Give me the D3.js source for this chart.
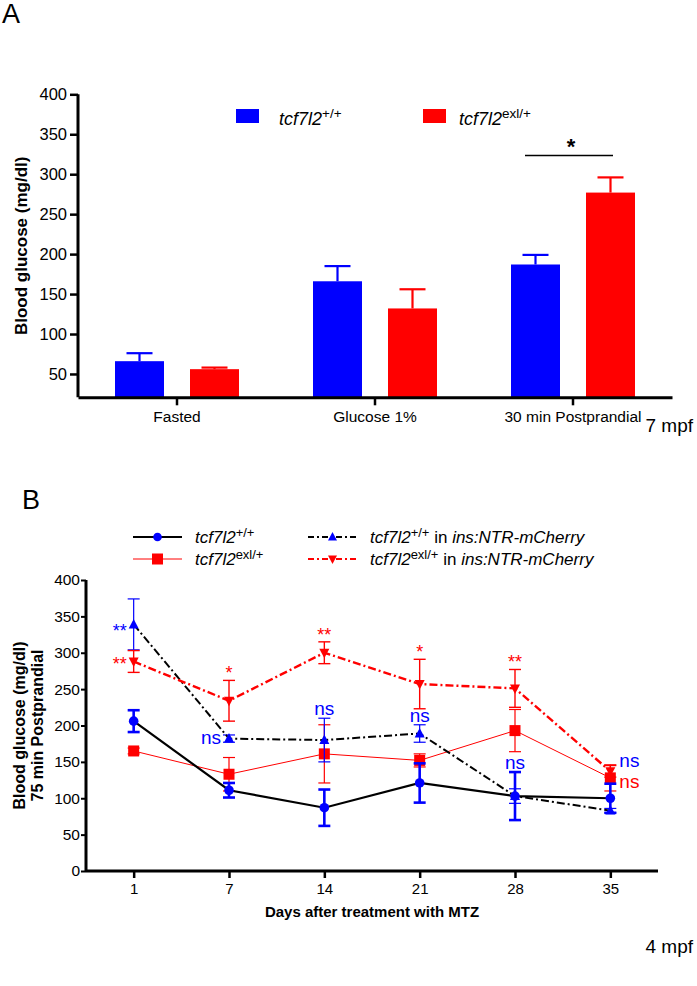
<!DOCTYPE html>
<html><head><meta charset="utf-8">
<script src="https://cdn.jsdelivr.net/npm/d3@7"></script>
<style>
body{margin:0;background:#fff;}
svg{display:block;font-family:"Liberation Sans",Arial,Helvetica,sans-serif;}
</style></head><body>
<svg id="c" width="697" height="986"></svg>
<script>
// ---------- Panel A data ----------
const catsA = ["Fasted", "Glucose 1%", "30 min Postprandial"];
const wtA = [66, 166, 187];
const wtAErr = [10, 19, 12];
const mutA = [56, 132, 277];
const mutAErr = [2, 24, 19];
const yTicksA = [50, 100, 150, 200, 250, 300, 350, 400];

// ---------- Panel B data ----------
const daysB = ["1", "7", "14", "21", "28", "35"];
const wtB = [206, 111, 87, 121, 103, 100];
const wtBErr = [15, 10, 25, 27, 33, 20];
const mutB = [165, 133, 161, 152, 193, 128];
const mutBErr = [4, 23, 40, 9, 29, 18];
const wtNtrB = [339, 182, 180, 189, 103, 83];
const wtNtrBErr = [35, 5, 30, 12, 10, 3];
const mutNtrB = [288, 234, 300, 257, 251, 137];
const mutNtrBErr = [15, 28, 15, 34, 26, 8];
const sigRedB = ["**", "*", "**", "*", "**", "ns"];
const sigBlueB = ["**", "ns", "ns", "ns", "ns", "ns"];
const yTicksB = [0, 50, 100, 150, 200, 250, 300, 350, 400];

const BLUE = "#0000ff", RED = "#ff0000";
const svg = d3.select("#c");

// ================= PANEL A =================
svg.append("text").attr("x", 2).attr("y", 23).attr("font-size", 27).text("A");

const xA = d3.scaleBand().domain(catsA).range([78, 672]);
const yA = d3.scaleLinear().domain([20.8, 400]).range([397.3, 94.3]);
const gA = svg.append("g");
const barW = 49, off = 37.5, capW = 26;

function barsA(vals, errs, color, dx) {
  const g = gA.append("g");
  catsA.forEach((c, i) => {
    const cx = xA(c) + xA.bandwidth() / 2 + dx;
    const yt = yA(vals[i]), ye = yA(vals[i] + errs[i]);
    g.append("line").attr("x1", cx).attr("x2", cx).attr("y1", yt).attr("y2", ye)
      .attr("stroke", color).attr("stroke-width", 2.2);
    g.append("line").attr("x1", cx - capW / 2).attr("x2", cx + capW / 2).attr("y1", ye).attr("y2", ye)
      .attr("stroke", color).attr("stroke-width", 2.2);
    g.append("rect").attr("x", cx - barW / 2).attr("y", yt).attr("width", barW)
      .attr("height", yA(yA.domain()[0]) - yt).attr("fill", color);
  });
}
barsA(wtA, wtAErr, BLUE, -off);
barsA(mutA, mutAErr, RED, off);

// axes A
const axYA = d3.axisLeft(yA).tickValues(yTicksA).tickSize(8).tickPadding(3);
const gyA = svg.append("g").attr("transform", "translate(78,0)").call(axYA);
gyA.select(".domain").attr("stroke-width", 3).attr("d", `M0,${yA(400)}V${yA(yA.domain()[0])}`);
gyA.selectAll(".tick line").attr("stroke-width", 2.5);
gyA.selectAll(".tick text").attr("font-size", 16.5).attr("fill", "#000");

const axXA = d3.axisBottom(xA).tickSize(8).tickPadding(6).tickSizeOuter(0);
const gxA = svg.append("g").attr("transform", `translate(0,${yA(yA.domain()[0])})`).call(axXA);
gxA.select(".domain").attr("stroke-width", 3);
gxA.selectAll(".tick line").attr("stroke-width", 2.5);
gxA.selectAll(".tick text").attr("font-size", 15.5).attr("fill", "#000");

svg.append("text").attr("transform", `translate(27,${(yA(400) + yA(yA.domain()[0])) / 2}) rotate(-90)`)
  .attr("text-anchor", "middle").attr("font-size", 17).attr("font-weight", "bold").text("Blood glucose (mg/dl)");

// legend A
[[BLUE, "+/+", 236, 279], [RED, "exl/+", 423, 459]].forEach(([col, sup, rx, tx]) => {
  svg.append("rect").attr("x", rx).attr("y", 109).attr("width", 23).attr("height", 14).attr("fill", col);
  const t = svg.append("text").attr("x", tx).attr("y", 125).attr("font-size", 18);
  t.append("tspan").attr("font-style", "italic").text("tcf7l2");
  t.append("tspan").attr("font-size", 13.5).attr("dy", -7).text(sup);
});

// significance bar
const c3 = xA(catsA[2]) + xA.bandwidth() / 2;
svg.append("line").attr("x1", c3 - 48).attr("x2", c3 + 40).attr("y1", 155.5).attr("y2", 155.5)
  .attr("stroke", "#000").attr("stroke-width", 1.5);
svg.append("text").attr("x", c3 - 2).attr("y", 154).attr("text-anchor", "middle")
  .attr("font-size", 22).attr("font-weight", "bold").text("*");

svg.append("text").attr("x", 693).attr("y", 432).attr("text-anchor", "end").attr("font-size", 19).text("7 mpf");

// ================= PANEL B =================
svg.append("text").attr("x", 22).attr("y", 509).attr("font-size", 27).text("B");

const xB = d3.scalePoint().domain(daysB).range([86, 658]).padding(0.5);
const yB = d3.scaleLinear().domain([0, 400]).range([871, 580]);

const axYB = d3.axisLeft(yB).tickValues(yTicksB).tickSize(5).tickPadding(1);
const gyB = svg.append("g").attr("transform", "translate(86,0)").call(axYB);
gyB.select(".domain").attr("stroke-width", 3).attr("d", `M0,${yB(400)}V${yB(0)}`);
gyB.selectAll(".tick line").attr("stroke-width", 2);
gyB.selectAll(".tick text").attr("font-size", 15.5).attr("fill", "#000");

const axXB = d3.axisBottom(xB).tickSize(7).tickPadding(5).tickSizeOuter(0);
const gxB = svg.append("g").attr("transform", `translate(0,${yB(0)})`).call(axXB);
gxB.select(".domain").attr("stroke-width", 3).attr("d", "M86,0H658");
gxB.selectAll(".tick line").attr("stroke-width", 2.5);
gxB.selectAll(".tick text").attr("font-size", 15).attr("fill", "#000");

svg.append("text").attr("x", 372).attr("y", 917).attr("text-anchor", "middle")
  .attr("font-size", 15).attr("font-weight", "bold").text("Days after treatment with MTZ");

const yLabC = (yB(0) + yB(400)) / 2;
svg.append("text").attr("transform", `translate(25,${yLabC}) rotate(-90)`).attr("text-anchor", "middle")
  .attr("font-size", 16).attr("font-weight", "bold").text("Blood glucose (mg/dl)");
svg.append("text").attr("transform", `translate(43,${yLabC}) rotate(-90)`).attr("text-anchor", "middle")
  .attr("font-size", 16).attr("font-weight", "bold").text("75 min Postprandial");

// series drawing
const series = [
  {vals: mutB, errs: mutBErr, line: RED, lw: 1, dash: null, mark: "square", mcol: RED, ecol: RED, ew: 1.2},
  {vals: wtNtrB, errs: wtNtrBErr, line: "#000", lw: 2, dash: "8,3,2,3", mark: "up", mcol: BLUE, ecol: BLUE, ew: 1.2},
  {vals: mutNtrB, errs: mutNtrBErr, line: RED, lw: 2.4, dash: "8,3,2,3", mark: "down", mcol: RED, ecol: RED, ew: 1.4},
  {vals: wtB, errs: wtBErr, line: "#000", lw: 2.2, dash: null, mark: "circle", mcol: BLUE, ecol: BLUE, ew: 2.6},
];
function marker(g, type, x, y, col, s) {
  s = s || 1;
  if (type === "circle") g.append("circle").attr("cx", x).attr("cy", y).attr("r", 4.8 * s).attr("fill", col);
  else if (type === "square") g.append("rect").attr("x", x - 5.5 * s).attr("y", y - 5.5 * s).attr("width", 11 * s).attr("height", 11 * s).attr("fill", col);
  else if (type === "up") g.append("path").attr("d", `M${x},${y - 5.5 * s}L${x + 5 * s},${y + 4 * s}L${x - 5 * s},${y + 4 * s}Z`).attr("fill", col);
  else g.append("path").attr("d", `M${x},${y + 5.5 * s}L${x + 5 * s},${y - 4 * s}L${x - 5 * s},${y - 4 * s}Z`).attr("fill", col);
}
const lineGen = d3.line().x((d, i) => xB(daysB[i])).y(d => yB(d));
series.forEach(s => {
  const g = svg.append("g");
  s.vals.forEach((v, i) => {
    const x = xB(daysB[i]);
    const y1 = yB(v + s.errs[i]), y2 = yB(v - s.errs[i]);
    g.append("line").attr("x1", x).attr("x2", x).attr("y1", y1).attr("y2", y2).attr("stroke", s.ecol).attr("stroke-width", s.ew);
    [y1, y2].forEach(yy => g.append("line").attr("x1", x - 6).attr("x2", x + 6).attr("y1", yy).attr("y2", yy)
      .attr("stroke", s.ecol).attr("stroke-width", s.ew));
  });
  g.append("path").attr("d", lineGen(s.vals)).attr("fill", "none").attr("stroke", s.line)
    .attr("stroke-width", s.lw).attr("stroke-dasharray", s.dash);
  s.vals.forEach((v, i) => marker(g, s.mark, xB(daysB[i]), yB(v), s.mcol));
});

// significance labels
const gs = svg.append("g");
daysB.forEach((d, i) => {
  const x = xB(d);
  let rx, ry, ra = "middle", rsz = 18;
  if (i === 0) { rx = x - 7; ry = yB(mutNtrB[i]) + 9; ra = "end"; }
  else if (i === 5) { rx = x + 9; ry = yB(mutB[i]) + 10; ra = "start"; }
  else { rx = x; ry = yB(mutNtrB[i] + mutNtrBErr[i]) - 1; }
  if (sigRedB[i] === "ns") rsz = 19;
  gs.append("text").attr("x", rx).attr("y", ry).attr("text-anchor", ra).attr("fill", RED)
    .attr("font-size", rsz).text(sigRedB[i]);
  let bx, by, ba = "middle", bsz = 19;
  if (i === 0) { bx = x - 7; by = yB(wtNtrB[i]) + 13; ba = "end"; bsz = 18; }
  else if (i === 1) { bx = x - 8; by = yB(wtNtrB[i]) + 5; ba = "end"; }
  else if (i === 2 || i === 3) { bx = x; by = yB(wtNtrB[i] + wtNtrBErr[i]) - 3; }
  else if (i === 4) { bx = x; by = yB(wtB[i] + wtBErr[i]) - 3; }
  else { bx = x + 9; by = yB(wtB[i]) - 31; ba = "start"; }
  gs.append("text").attr("x", bx).attr("y", by).attr("text-anchor", ba).attr("fill", BLUE)
    .attr("font-size", bsz).text(sigBlueB[i]);
});

// legend B
const legB = [
  {x: 133, y: 537, line: "#000", lw: 2.2, dash: null, mark: "circle", mcol: BLUE, sup: "+/+", tail: ""},
  {x: 133, y: 559, line: RED, lw: 1, dash: null, mark: "square", mcol: RED, sup: "exl/+", tail: ""},
  {x: 308, y: 537, line: "#000", lw: 2, dash: "6,3,2,3", mark: "up", mcol: BLUE, sup: "+/+", tail: "x"},
  {x: 308, y: 559, line: RED, lw: 2.2, dash: "6,3,2,3", mark: "down", mcol: RED, sup: "exl/+", tail: "x"},
];
legB.forEach(l => {
  svg.append("line").attr("x1", l.x).attr("x2", l.x + 49).attr("y1", l.y).attr("y2", l.y)
    .attr("stroke", l.line).attr("stroke-width", l.lw).attr("stroke-dasharray", l.dash);
  marker(svg, l.mark, l.x + 24.5, l.y, l.mcol, l.mark === "square" ? 1 : 0.9);
  const t = svg.append("text").attr("x", l.x + 62).attr("y", l.y + 6).attr("font-size", 17);
  t.append("tspan").attr("font-style", "italic").text("tcf7l2");
  t.append("tspan").attr("font-size", 13).attr("dy", -6).text(l.sup);
  if (l.tail) {
    t.append("tspan").attr("dy", 6).text(" in ");
    t.append("tspan").attr("font-style", "italic").text("ins:NTR-mCherry");
  }
});

svg.append("text").attr("x", 693).attr("y", 953).attr("text-anchor", "end").attr("font-size", 19).text("4 mpf");
</script>
</body></html>
